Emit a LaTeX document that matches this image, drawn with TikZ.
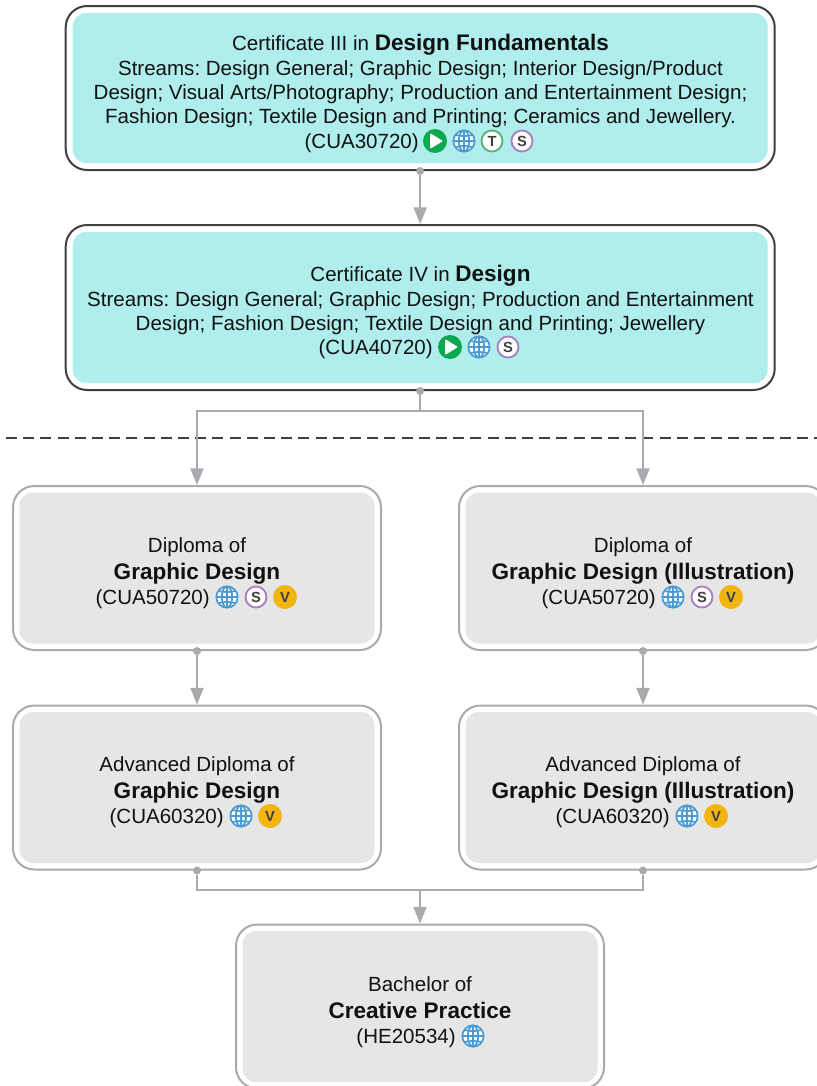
\documentclass[tikz,border=0pt]{standalone}
\usepackage{fontspec}
\setmainfont{Liberation Sans}
\usetikzlibrary{arrows.meta}
\definecolor{teal}{HTML}{AFEEEC}
\definecolor{panel}{HTML}{E6E6E7}
\definecolor{conn}{HTML}{A9A9AE}
\definecolor{dark}{HTML}{3F3F41}
\definecolor{ink}{HTML}{111111}
\definecolor{playg}{HTML}{0BA84F}
\definecolor{globeb}{HTML}{4A9BD5}
\definecolor{tg}{HTML}{5DB075}
\definecolor{sp}{HTML}{A880C0}
\definecolor{vy}{HTML}{F2B50F}
\frenchspacing
\newcommand{\body}{\fontsize{15.4pt}{18.3pt}\selectfont}
\newcommand{\hd}[1]{{\fontsize{16.9pt}{18.3pt}\selectfont\bfseries #1}}
\tikzset{
  outerdark/.style={draw=dark,line width=1.5pt,fill=white,rounded corners=16pt,inner sep=0pt},
  outerlight/.style={draw=conn,line width=1.5pt,fill=white,rounded corners=16pt,inner sep=0pt},
  innerteal/.style={fill=teal,rounded corners=10pt,inner sep=0pt},
  innergrey/.style={fill=panel,rounded corners=10pt,inner sep=0pt},
  txt/.style={align=center,text=ink,font=\body,inner sep=0pt},
  code/.style={text=ink,font=\body,inner sep=0pt,anchor=base east},
  link/.style={draw=conn,line width=1.5pt},
  arrowlink/.style={link,-{Triangle[length=12.5pt,width=9.75pt]}},
  dot/.style={circle,fill=conn,inner sep=0pt,minimum size=6pt},
  globe/.pic={
    \fill[white] (0,0) circle (11.5);
    \begin{scope}[globeb,line width=1.3pt]
      \draw (0,0) circle (10.7);
      \draw (0,-10.5)--(0,10.5) (-10.5,0)--(10.5,0);
      \draw (-8.6,-6) to[bend right=12] (8.6,-6);
      \draw (-8.6,6) to[bend left=12] (8.6,6);
      \draw (0,0) ellipse (5.2 and 10.5);
    \end{scope}
  },
  playicon/.pic={
    \fill[playg] (0,0) circle (12);
    \fill[white,rounded corners=0.8pt] (-5,-8)--(8,0)--(-5,8)--cycle;
  },
}
\newcommand{\lettered}[4]{%
  \node[circle,draw=#3,line width=1.4pt,fill=white,minimum size=15.8pt,inner sep=0pt,text=dark,font=\fontsize{11pt}{11pt}\selectfont\bfseries] (#4) at (#1) {#2};}
\newcommand{\vicon}[2]{%
  \node[circle,fill=vy,minimum size=18pt,inner sep=0pt,text=dark,font=\fontsize{11pt}{11pt}\selectfont\bfseries] (#2) at (#1) {V};}
\begin{document}
\begin{tikzpicture}[x=0.75pt,y=-0.75pt]
\useasboundingbox (0,0) rectangle (817,1086);
\clip (0,0) rectangle (817,1086);
% divider
\coordinate (divL) at (6,438);
\coordinate (divR) at (817,438);
\draw[dark,line width=1.5pt,dash pattern=on 8.3pt off 4.6pt] (divL) -- (divR);
% boxes
\node[outerdark,minimum width=709*0.75pt,minimum height=164*0.75pt] (c3) at (420.2,88) {};
\node[innerteal,minimum width=695*0.75pt,minimum height=150*0.75pt] (c3i) at (420.2,88) {};
\node[outerdark,minimum width=709*0.75pt,minimum height=165*0.75pt] (c4) at (420.2,307.5) {};
\node[innerteal,minimum width=695*0.75pt,minimum height=151*0.75pt] (c4i) at (420.2,307.5) {};
\node[outerlight,minimum width=368*0.75pt,minimum height=164*0.75pt] (d1) at (197,568) {};
\node[innergrey,minimum width=355*0.75pt,minimum height=151*0.75pt] (d1i) at (197,568) {};
\node[outerlight,minimum width=368*0.75pt,minimum height=164*0.75pt] (d2) at (643,568) {};
\node[innergrey,minimum width=355*0.75pt,minimum height=151*0.75pt] (d2i) at (643,568) {};
\node[outerlight,minimum width=368*0.75pt,minimum height=164*0.75pt] (a1) at (197,787.5) {};
\node[innergrey,minimum width=355*0.75pt,minimum height=151*0.75pt] (a1i) at (197,787.5) {};
\node[outerlight,minimum width=368*0.75pt,minimum height=164*0.75pt] (a2) at (643,787.5) {};
\node[innergrey,minimum width=355*0.75pt,minimum height=151*0.75pt] (a2i) at (643,787.5) {};
\node[outerlight,minimum width=368*0.75pt,minimum height=164*0.75pt] (b) at (420,1006.5) {};
\node[innergrey,minimum width=355*0.75pt,minimum height=151*0.75pt] (bi) at (420,1006.5) {};
% connectors
\node[dot] (dc3) at (c3.south) {};
\node[dot] (dc4) at (c4.south) {};
\node[dot] (dd1) at (d1.south) {};
\node[dot] (dd2) at (d2.south) {};
\node[dot] (da1) at (a1.south) {};
\node[dot] (da2) at (a2.south) {};
\coordinate (split) at (420.2,411);
\coordinate (merge) at (420,890);
\draw[arrowlink] (dc3) -- (c4.north);
\draw[link] (dc4) -- (split);
\draw[arrowlink] (split) -| (d1.north);
\draw[arrowlink] (split) -| (d2.north);
\draw[arrowlink] (dd1) -- (a1.north);
\draw[arrowlink] (dd2) -- (a2.north);
\draw[link] (da1) |- (merge);
\draw[link] (da2) |- (merge);
\draw[arrowlink] (merge) -- (b.north);
% text
\node[txt] (t1) at (420.5,82.5) {\strut Certificate III in \hd{Design Fundamentals}\\Streams: Design General; Graphic Design; Interior Design/Product\\Design; Visual Arts/Photography; Production and Entertainment Design;\\Fashion Design; Textile Design and Printing; Ceramics and Jewellery.\strut};
\node[code] (k1) at (419,148) {(CUA30720)};
\pic at (435,141) {playicon};
\pic at (464,141) {globe};
\lettered{492,141}{T}{tg}{i1t}
\lettered{522,141}{S}{sp}{i1s}
\node[txt] (t2) at (420.5,301.5) {\strut Certificate IV in \hd{Design}\\Streams: Design General; Graphic Design; Production and Entertainment\\Design; Fashion Design; Textile Design and Printing; Jewellery\strut};
\node[code] (k2) at (433,354) {(CUA40720)};
\pic at (450,347) {playicon};
\pic at (479,347) {globe};
\lettered{508,347}{S}{sp}{i2s}
\node[txt] (t3) at (197,561) {\strut Diploma of\\[1.5pt]\hd{Graphic Design}\strut};
\node[code] (k3) at (210,604) {(CUA50720)};
\pic at (227,597) {globe};
\lettered{256,597}{S}{sp}{i3s}
\vicon{285,597}{i3v}
\node[txt] (t4) at (643,561) {\strut Diploma of\\[1.5pt]\hd{Graphic Design (Illustration)}\strut};
\node[code] (k4) at (656,604) {(CUA50720)};
\pic at (673,597) {globe};
\lettered{702,597}{S}{sp}{i4s}
\vicon{731,597}{i4v}
\node[txt] (t5) at (197,780) {\strut Advanced Diploma of\\[1.5pt]\hd{Graphic Design}\strut};
\node[code] (k5) at (224,823) {(CUA60320)};
\pic at (241,816) {globe};
\vicon{270,816}{i5v}
\node[txt] (t6) at (643,780) {\strut Advanced Diploma of\\[1.5pt]\hd{Graphic Design (Illustration)}\strut};
\node[code] (k6) at (670,823) {(CUA60320)};
\pic at (687,816) {globe};
\vicon{716,816}{i6v}
\node[txt] (t7) at (420,1000) {\strut Bachelor of\\[1.5pt]\hd{Creative Practice}\strut};
\node[code] (k7) at (456,1043) {(HE20534)};
\pic at (473,1036) {globe};
\end{tikzpicture}
\end{document}
